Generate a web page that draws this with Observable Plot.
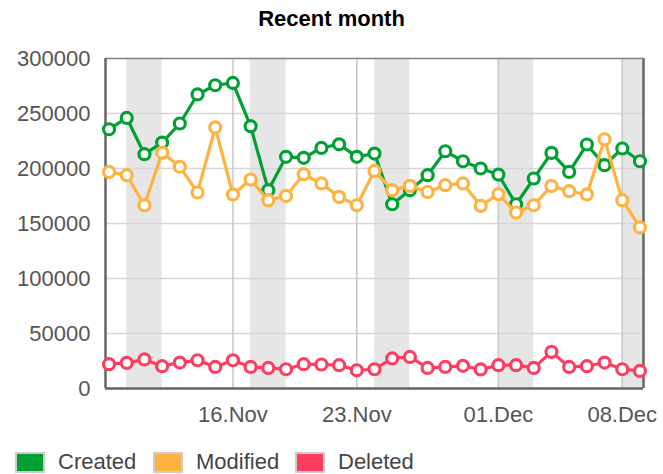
<!DOCTYPE html>
<html>
<head>
<meta charset="utf-8">
<script src="https://cdn.jsdelivr.net/npm/d3@7"></script>
<script src="https://cdn.jsdelivr.net/npm/@observablehq/plot@0.6"></script>
<style>
  html, body { margin: 0; padding: 0; background: #fff; }
  #wrap { position: relative; width: 663px; height: 474px; font-family: "Liberation Sans", Arial, sans-serif; }
  #title { position: absolute; top: 5px; left: 0; width: 663px; text-align: center; font-weight: bold; font-size: 22px; line-height: 28px; color: #000; }
  #chart { position: absolute; top: 40px; left: 0; }
  .leg { position: absolute; top: 448px; height: 28px; display: flex; align-items: center; font-size: 22px; color: #444; }
  .sw { width: 26px; height: 17px; border: 2px solid #ccc; margin-right: 13px; box-sizing: content-box; }
</style>
</head>
<body>
<div id="wrap">
  <div id="title">Recent month</div>
  <div id="chart"></div>
  <div id="legend"></div>
</div>
<script>
const dates = ["2012-11-09","2012-11-10","2012-11-11","2012-11-12","2012-11-13","2012-11-14","2012-11-15","2012-11-16","2012-11-17","2012-11-18","2012-11-19","2012-11-20","2012-11-21","2012-11-22","2012-11-23","2012-11-24","2012-11-25","2012-11-26","2012-11-27","2012-11-28","2012-11-29","2012-11-30","2012-12-01","2012-12-02","2012-12-03","2012-12-04","2012-12-05","2012-12-06","2012-12-07","2012-12-08","2012-12-09"];
const created = [235700,246000,213000,223600,240900,267300,275700,277800,238500,180300,210600,209700,218700,222000,210600,213600,167500,180300,193900,215700,206600,200000,194500,167500,190900,214200,196900,221800,203000,218200,206600];
const modified = [196900,193900,166600,214500,201500,178200,237300,176400,190000,171200,175100,194800,186400,174200,166600,197800,180300,184200,178700,184800,186400,166000,176600,160000,166600,184200,179400,176400,226600,171200,146400];
const deleted = [22100,23300,26400,20300,23600,25700,19600,25700,19600,18700,17500,22100,21800,21200,16600,17500,27300,28700,18700,19600,20600,17300,21200,21200,18700,33300,19600,20300,23600,17500,16000];
const seriesNames = ["Created","Modified","Deleted"];
const seriesColors = ["#00a032","#ffb23f","#ff3d5f"];
const tickDates = ["2012-11-16","2012-11-23","2012-12-01","2012-12-08"];
const tickLabels = ["16.Nov","23.Nov","01.Dec","08.Dec"];
const yTicks = [0,50000,100000,150000,200000,250000,300000];
const weekendStarts = ["2012-11-10","2012-11-17","2012-11-24","2012-12-01","2012-12-08"];

const parse = d3.utcParse("%Y-%m-%d");
const DAY = 864e5;
const xs = dates.map(parse);
const xmin = new Date(+xs[0] - 0.2 * DAY);
const xmax = new Date(+xs[xs.length - 1] + 0.2 * DAY);
const values = [created, modified, deleted];
const rows = [];
values.forEach((arr, s) => arr.forEach((v, i) => rows.push({date: xs[i], value: v, series: seriesNames[s]})));
const bands = weekendStarts.map(d => ({x1: parse(d), x2: new Date(Math.min(+parse(d) + 2 * DAY, +xmax))}));
const ticks = tickDates.map(parse);
const labelOf = new Map(ticks.map((t, i) => [+t, tickLabels[i]]));

const marks = [
  Plot.rect(bands, {x1: "x1", x2: "x2", fill: "#e6e6e6"}),
  Plot.gridY(yTicks, {stroke: "#d6d6d6", strokeOpacity: 1, strokeWidth: 1.5}),
  Plot.gridX(ticks, {stroke: "#c8c8c8", strokeOpacity: 1, strokeWidth: 1.5}),
  Plot.ruleY([300000], {stroke: "#888", strokeWidth: 1.5}),
  Plot.ruleX([xmin, xmax], {stroke: "#666", strokeWidth: 2.5}),
  Plot.ruleY([0], {stroke: "#666", strokeWidth: 2.5}),
  Plot.axisY({ticks: yTicks, tickSize: 0, tickPadding: 15, tickFormat: d => String(d), fontSize: 22, label: null}),
  Plot.axisX({ticks: ticks, tickSize: 0, tickPadding: 18, tickFormat: d => labelOf.get(+d), fontSize: 22, label: null})
];
seriesNames.forEach((name, s) => {
  const data = rows.filter(r => r.series === name);
  marks.push(Plot.line(data, {x: "date", y: "value", stroke: seriesColors[s], strokeWidth: 3.2}));
  marks.push(Plot.dot(data, {x: "date", y: "value", r: 5.5, fill: "#fff", stroke: seriesColors[s], strokeWidth: 3.2}));
});

const chart = Plot.plot({
  width: 663,
  height: 400,
  marginLeft: 105,
  marginRight: 20,
  marginTop: 18,
  marginBottom: 52,
  x: {type: "utc", domain: [xmin, xmax], label: null},
  y: {domain: [0, 300000], label: null},
  style: {fontFamily: "'Liberation Sans', Arial, sans-serif", fontSize: "22px", color: "#555", background: "transparent", overflow: "visible"},
  marks
});
document.getElementById("chart").appendChild(chart);

const legend = document.getElementById("legend");
const legLefts = [15, 153, 295];
seriesNames.forEach((name, s) => {
  const item = document.createElement("div");
  item.className = "leg";
  item.style.left = legLefts[s] + "px";
  const sw = document.createElement("div");
  sw.className = "sw";
  sw.style.background = seriesColors[s];
  item.appendChild(sw);
  const t = document.createElement("span");
  t.textContent = name;
  item.appendChild(t);
  legend.appendChild(item);
});
</script>
</body>
</html>
